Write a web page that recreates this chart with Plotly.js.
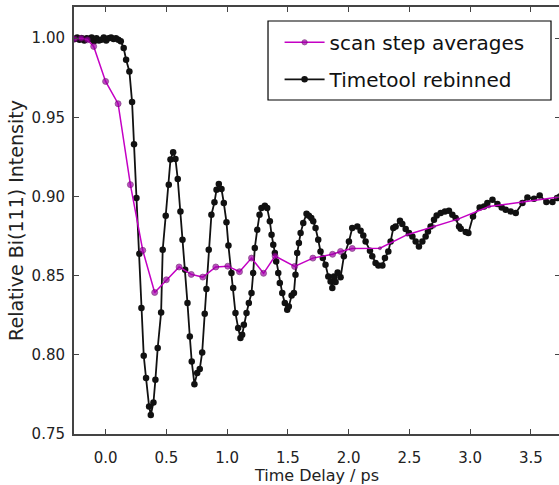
<!DOCTYPE html>
<html>
<head>
<meta charset="utf-8">
<script src="https://cdn.plot.ly/plotly-3.0.1.min.js"></script>
<style>
html,body{margin:0;padding:0;overflow:hidden;background:#fff;}
#chart{width:561px;height:485px;}
</style>
</head>
<body>
<div id="chart"></div>
<script>
// Scan step averages (magenta)
const scanX = [-0.255, -0.20, -0.15, -0.098, 0.0, 0.103, 0.204, 0.306, 0.404, 0.50, 0.605, 0.705, 0.80, 0.907, 1.006, 1.102, 1.201, 1.300, 1.395, 1.556, 1.706, 1.868, 1.934, 2.030, 2.258, 2.483, 2.703, 2.900, 3.156, 3.431, 3.706, 3.74];
const scanY = [0.9995, 1.0000, 0.9990, 0.9948, 0.9727, 0.9586, 0.9075, 0.8660, 0.8394, 0.8474, 0.8555, 0.8508, 0.8491, 0.8555, 0.8560, 0.8525, 0.8611, 0.8515, 0.8624, 0.8558, 0.8611, 0.8635, 0.8653, 0.8672, 0.8673, 0.8759, 0.8811, 0.8857, 0.8937, 0.8965, 0.8994, 0.8998];

// Timetool rebinned (black)
const ttX = [-0.255, -0.235, -0.215, -0.195, -0.175, -0.155, -0.135, -0.115, -0.095, -0.075, -0.055, -0.035, -0.015, 0.005, 0.025, 0.045, 0.065, 0.085, 0.105, 0.125,
  0.149, 0.169, 0.196, 0.218, 0.234, 0.254, 0.278, 0.295, 0.314, 0.333, 0.358, 0.372, 0.394, 0.410, 0.429, 0.457, 0.470, 0.495, 0.520, 0.534,
  0.556, 0.575, 0.594, 0.616, 0.633, 0.655, 0.674, 0.693, 0.709, 0.731, 0.754, 0.775, 0.795, 0.816, 0.830, 0.849, 0.871, 0.896, 0.913, 0.932,
  0.954, 0.973, 0.995, 1.011, 1.036, 1.050, 1.069, 1.091, 1.110, 1.124, 1.138, 1.160, 1.179, 1.201, 1.215, 1.228, 1.248, 1.267, 1.283, 1.311,
  1.330, 1.352, 1.366, 1.380, 1.393, 1.404, 1.421, 1.434, 1.454, 1.475, 1.495, 1.508, 1.531, 1.550, 1.563, 1.577, 1.591, 1.605, 1.627, 1.654,
  1.673, 1.693, 1.709, 1.728, 1.750, 1.769, 1.788, 1.810, 1.833, 1.852, 1.866, 1.879, 1.893, 1.910, 1.934, 1.961, 2.003, 2.030, 2.072, 2.099,
  2.121, 2.140, 2.176, 2.195, 2.222, 2.245, 2.278, 2.299, 2.327, 2.346, 2.368, 2.387, 2.423, 2.442, 2.470, 2.497, 2.525, 2.552, 2.579, 2.607,
  2.634, 2.653, 2.675, 2.703, 2.725, 2.758, 2.793, 2.826, 2.854, 2.881, 2.909, 2.923, 2.964, 2.986, 3.024, 3.079, 3.115, 3.142, 3.184, 3.225,
  3.260, 3.293, 3.334, 3.376, 3.431, 3.472, 3.526, 3.573, 3.628, 3.678, 3.716, 3.740];
const ttY = [0.9995, 1.0005, 0.9990, 1.0000, 0.9985, 1.0000, 0.9995, 1.0005, 0.9980, 1.0000, 0.9985, 0.9990, 1.0005, 0.9985, 1.0000, 1.0005, 0.9995, 1.0000, 0.9990, 0.9980,
  0.9938, 0.9864, 0.9790, 0.9597, 0.9330, 0.8990, 0.8639, 0.8296, 0.7994, 0.7853, 0.7674, 0.7620, 0.7699, 0.7843, 0.8043, 0.8268, 0.8664, 0.8879, 0.9075, 0.9233,
  0.9280, 0.9237, 0.9110, 0.8906, 0.8727, 0.8538, 0.8327, 0.8116, 0.7958, 0.7815, 0.7885, 0.7910, 0.8015, 0.8260, 0.8416, 0.8664, 0.8885, 0.8963, 0.9043, 0.9079,
  0.9047, 0.8959, 0.8838, 0.8690, 0.8517, 0.8422, 0.8264, 0.8170, 0.8106, 0.8127, 0.8190, 0.8264, 0.8327, 0.8390, 0.8517, 0.8675, 0.8790, 0.8885, 0.8927, 0.8942,
  0.8927, 0.8843, 0.8759, 0.8696, 0.8643, 0.8590, 0.8517, 0.8453, 0.8390, 0.8327, 0.8285, 0.8306, 0.8374, 0.8390, 0.8506, 0.8643, 0.8706, 0.8769, 0.8833, 0.8891,
  0.8879, 0.8864, 0.8843, 0.8801, 0.8727, 0.8653, 0.8611, 0.8569, 0.8495, 0.8464, 0.8422, 0.8495, 0.8460, 0.8520, 0.8490, 0.8622, 0.8716, 0.8801, 0.8811, 0.8784,
  0.8754, 0.8716, 0.8658, 0.8622, 0.8580, 0.8565, 0.8565, 0.8611, 0.8653, 0.8716, 0.8801, 0.8811, 0.8847, 0.8826, 0.8795, 0.8770, 0.8748, 0.8716, 0.8685, 0.8716,
  0.8748, 0.8779, 0.8811, 0.8853, 0.8880, 0.8896, 0.8906, 0.8910, 0.8885, 0.8864, 0.8811, 0.8797, 0.8776, 0.8769, 0.8874, 0.8931, 0.8937, 0.8959, 0.8980, 0.8953,
  0.8931, 0.8917, 0.8906, 0.8896, 0.8959, 0.8994, 0.8986, 0.9007, 0.8965, 0.8965, 0.8990, 0.9000];

const seriesNames = ["scan step averages", "Timetool rebinned"];
const xTickVals = [0.0, 0.5, 1.0, 1.5, 2.0, 2.5, 3.0, 3.5];
const xTickText = ["0.0", "0.5", "1.0", "1.5", "2.0", "2.5", "3.0", "3.5"];
const yTickVals = [0.75, 0.80, 0.85, 0.90, 0.95, 1.00];
const yTickText = ["0.75", "0.80", "0.85", "0.90", "0.95", "1.00"];

const FONT = "DejaVu Sans, Liberation Sans, sans-serif";
const scanSizes = scanX.map(v => v < 2.1 ? 6 : 3);

const traces = [
  {
    x: ttX, y: ttY, name: seriesNames[1], legendgroup: "tt", legendrank: 2, type: "scatter", mode: "lines+markers",
    line: {color: "#111111", width: 1.8},
    marker: {color: "#111111", size: 6.5}
  },
  {
    x: scanX, y: scanY, name: seriesNames[0], legendgroup: "scan", legendrank: 1, type: "scatter", mode: "lines+markers",
    line: {color: "#C400C4", width: 1.5},
    marker: {color: "#A000A8", size: scanSizes, line: {color: "#5a005a", width: 0.8}}
  }
];

const axisCommon = {
  showgrid: false, zeroline: false, showline: true, linecolor: "#444", linewidth: 2,
  mirror: "ticks", ticks: "inside", ticklen: 5, tickwidth: 1, tickcolor: "#444",
  tickfont: {family: FONT, size: 15, color: "#222"}
};

const layout = {
  width: 561, height: 485,
  margin: {l: 74, r: 1, t: 7, b: 51},
  paper_bgcolor: "#fff", plot_bgcolor: "#fff",
  showlegend: true,
  legend: {
    x: 0.423, y: 0.963, xanchor: "left", yanchor: "top",
    bgcolor: "rgba(0,0,0,0)", borderwidth: 0,
    font: {family: FONT, size: 20, color: "#111"},
    traceorder: "grouped", tracegroupgap: 8, itemwidth: 40
  },
  shapes: [{
    type: "rect", xref: "paper", yref: "paper", layer: "above",
    x0: 0.3992, x1: 0.9815, y0: 0.7822, y1: 0.9672,
    line: {color: "#000", width: 1.2}, fillcolor: "#fff"
  }],
  xaxis: Object.assign({}, axisCommon, {
    range: [-0.26, 3.74], tickvals: xTickVals, ticktext: xTickText,
    ticklabelstandoff: 9,
    title: {text: "Time Delay / ps", font: {family: FONT, size: 16, color: "#222"}, standoff: 5}
  }),
  yaxis: Object.assign({}, axisCommon, {
    range: [0.75, 1.0197], tickvals: yTickVals, ticktext: yTickText,
    ticklabelstandoff: 4,
    title: {text: "Relative Bi(111) Intensity", font: {family: FONT, size: 19, color: "#222"}, standoff: 3}
  })
};

Plotly.newPlot("chart", traces, layout, {displayModeBar: false, staticPlot: true});
</script>
</body>
</html>
